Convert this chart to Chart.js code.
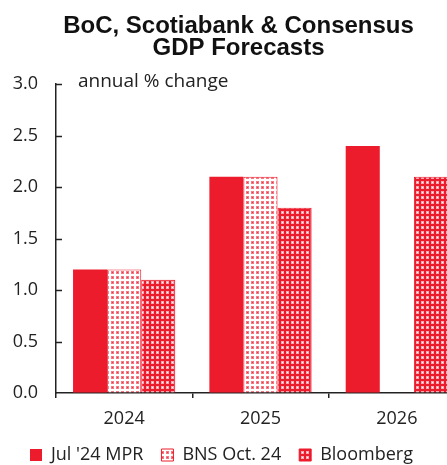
<!DOCTYPE html>
<html>
<head>
<meta charset="utf-8">
<script src="https://cdn.jsdelivr.net/npm/chart.js@4/dist/chart.umd.min.js"></script>
<style>
  html, body { margin: 0; padding: 0; background: #fff; overflow: hidden; }
  #wrap { width: 447px; height: 465px; overflow: hidden; }
</style>
</head>
<body>
<div id="wrap"><canvas id="chart" width="470" height="474"></canvas></div>
<script>
const categories = ['2024', '2025', '2026']
const mprValues = [1.2, 2.1, 2.4]
const bnsValues = [1.2, 2.1, null]
const bloombergValues = [1.1, 1.8, 2.1]
const seriesNames = ["Jul '24 MPR", 'BNS Oct. 24', 'Bloomberg']
const yTicks = [0, 0.5, 1, 1.5, 2, 2.5, 3]

const RED = '#ec1c2d'

// small tiles for the dotted fills
function makePattern(bg, dot, core) {
  const c = document.createElement('canvas')
  c.width = 5
  c.height = 5
  const g = c.getContext('2d')
  g.fillStyle = bg
  g.fillRect(0, 0, 5, 5)
  g.fillStyle = dot
  g.fillRect(1, 1, 3, 3)
  g.fillStyle = core
  g.fillRect(2, 2, 1, 1)
  return g.createPattern(c, 'repeat')
}

const ctx = document.getElementById('chart').getContext('2d')
const bnsFill = makePattern('#ffffff', '#f47a86', '#ee3445')
const bbgFill = makePattern(RED, '#f8aab3', '#ffffff')

// inward ticks on the y axis + the unit note
const extras = {
  id: 'extras',
  afterDraw(chart) {
    const y = chart.scales.y
    const left = chart.chartArea.left
    const c = chart.ctx
    c.save()
    c.strokeStyle = '#222'
    c.lineWidth = 1.5
    yTicks.forEach(v => {
      if (v === 0) return
      const py = Math.round(y.getPixelForValue(v)) + 0.5
      c.beginPath()
      c.moveTo(left, py)
      c.lineTo(left + 6, py)
      c.stroke()
    })
    c.fillStyle = '#222'
    c.font = '19px "Open Sans"'
    c.textBaseline = 'middle'
    c.fillText('annual % change', left + 22, y.getPixelForValue(3) - 3)
    c.restore()
  }
}

new Chart(ctx, {
  type: 'bar',
  data: {
    labels: categories,
    datasets: [
      {
        label: seriesNames[0],
        data: mprValues,
        backgroundColor: RED,
        borderWidth: 0,
      },
      {
        label: seriesNames[1],
        data: bnsValues,
        backgroundColor: bnsFill,
        borderColor: RED,
        borderWidth: 1,
      },
      {
        label: seriesNames[2],
        data: bloombergValues,
        backgroundColor: bbgFill,
        borderColor: RED,
        borderWidth: 1,
      },
    ],
  },
  options: {
    responsive: false,
    animation: false,
    categoryPercentage: 0.75,
    barPercentage: 1,
    layout: {
      padding: { left: 12, right: 5, top: 0, bottom: 0 },
    },
    plugins: {
      title: {
        display: true,
        text: ['BoC, Scotiabank & Consensus', 'GDP Forecasts'],
        color: '#111',
        font: { family: '"Liberation Sans", Arial, sans-serif', size: 24, weight: 'bold', lineHeight: 0.94 },
        padding: { top: 15, bottom: 24 },
      },
      legend: {
        position: 'bottom',
        align: 'start',
        labels: {
          boxWidth: 12,
          boxHeight: 12,
          padding: 18,
          color: '#222',
          font: { family: '"Open Sans"', size: 18 },
        },
      },
      tooltip: { enabled: false },
    },
    scales: {
      x: {
        afterFit(scale) { scale.height = 35 },
        grid: { offset: true, drawOnChartArea: false, tickLength: 5, color: '#222', lineWidth: 1.5 },
        border: { color: '#222', width: 1.5 },
        ticks: { color: '#222', padding: 10, font: { family: '"Open Sans"', size: 18 } },
      },
      y: {
        min: 0,
        max: 3,
        afterFit(scale) { scale.width = 44 },
        afterBuildTicks(scale) { scale.ticks = yTicks.map(v => ({ value: v })) },
        grid: { drawOnChartArea: false, drawTicks: false },
        border: { color: '#222', width: 1.5 },
        ticks: {
          color: '#222',
          padding: 18,
          font: { family: '"Open Sans"', size: 18 },
          callback: v => Number(v).toFixed(1),
        },
      },
    },
  },
  plugins: [extras],
})
</script>
</body>
</html>
